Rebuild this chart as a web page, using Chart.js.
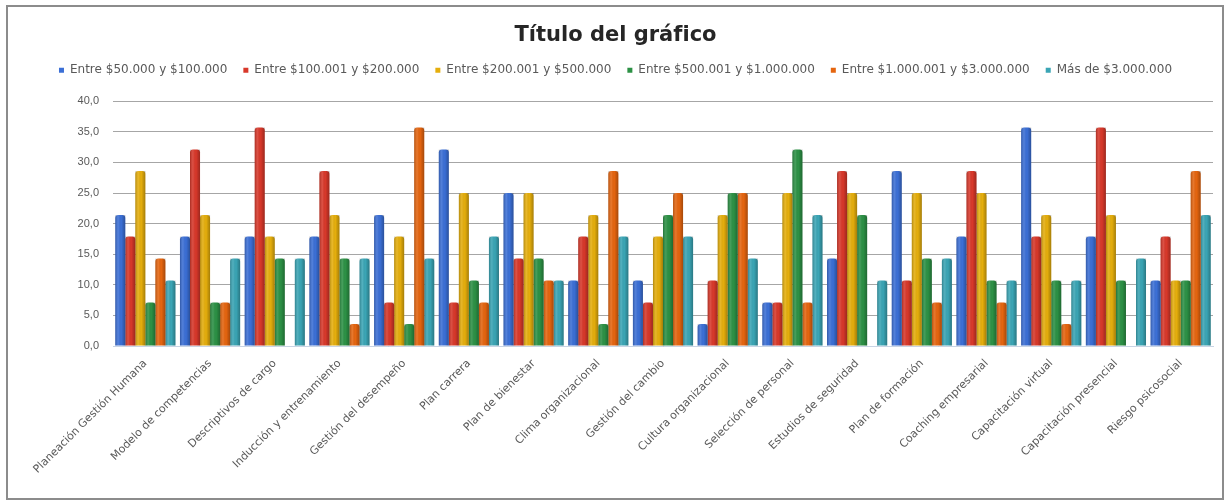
<!DOCTYPE html>
<html lang="es">
<head>
<meta charset="UTF-8">
<title>Título del gráfico</title>
<script src="https://cdn.jsdelivr.net/npm/chart.js@4.4.1/dist/chart.umd.min.js"></script>
<style>
    html, body { margin: 0; padding: 0; background: #fff; }
    #wrap { position: absolute; left: 6px; top: 5px; width: 1214px; height: 491px; border: 2px solid #8c8c8c; background: #fff; }
</style>
</head>
<body>
<div id="wrap"><canvas id="grafico"></canvas></div>
<script>
    const categorias = [
        'Planeación Gestión Humana', 'Modelo de competencias', 'Descriptivos de cargo',
        'Inducción y entrenamiento', 'Gestión del desempeño', 'Plan carrera', 'Plan de bienestar',
        'Clima organizacional', 'Gestión del cambio', 'Cultura organizacional', 'Selección de personal',
        'Estudios de seguridad', 'Plan de formación', 'Coaching empresarial', 'Capacitación virtual',
        'Capacitación presencial', 'Riesgo psicosocial'
    ];
    const series = [
        'Entre $50.000 y $100.000', 'Entre $100.001 y $200.000', 'Entre $200.001 y $500.000',
        'Entre $500.001 y $1.000.000', 'Entre $1.000.001 y $3.000.000', 'Más de $3.000.000'
    ];
    const entre50y100 = [21.4, 17.9, 17.9, 17.9, 21.4, 32.1, 25.0, 10.7, 10.7, 3.6, 7.1, 14.3, 28.6, 17.9, 35.7, 17.9, 10.7];
    const entre100y200 = [17.9, 32.1, 35.7, 28.6, 7.1, 7.1, 14.3, 17.9, 7.1, 10.7, 7.1, 28.6, 10.7, 28.6, 17.9, 35.7, 17.9];
    const entre200y500 = [28.6, 21.4, 17.9, 21.4, 17.9, 25.0, 25.0, 21.4, 17.9, 21.4, 25.0, 25.0, 25.0, 25.0, 21.4, 21.4, 10.7];
    const entre500y1000 = [7.1, 7.1, 14.3, 14.3, 3.6, 10.7, 14.3, 3.6, 21.4, 25.0, 32.1, 21.4, 14.3, 10.7, 10.7, 10.7, 10.7];
    const entre1000y3000 = [14.3, 7.1, 0.0, 3.6, 35.7, 7.1, 10.7, 28.6, 25.0, 25.0, 7.1, 0.0, 7.1, 7.1, 3.6, 0.0, 28.6];
    const masDe3000 = [10.7, 14.3, 14.3, 14.3, 14.3, 17.9, 10.7, 17.9, 17.9, 14.3, 21.4, 10.7, 14.3, 10.7, 10.7, 14.3, 21.4];
    const colores = ['#3b6fd6', '#d8382a', '#e5ae0c', '#2c9145', '#e5650f', '#3aa5b5'];
    const ticksY = [0, 5, 10, 15, 20, 25, 30, 35, 40];

    const valores = [entre50y100, entre100y200, entre200y500, entre500y1000, entre1000y3000, masDe3000];

    // sombreado tipo cilindro sobre cada barra
    const sombreado = {
        id: 'sombreado',
        afterDatasetsDraw(chart) {
            const ctx = chart.ctx;
            chart.data.datasets.forEach((ds, i) => {
                chart.getDatasetMeta(i).data.forEach(bar => {
                    const h = bar.base - bar.y;
                    if (h < 1) return;
                    const x0 = bar.x - bar.width / 2;
                    const g = ctx.createLinearGradient(x0, 0, x0 + bar.width, 0);
                    g.addColorStop(0, 'rgba(0,0,0,0.22)');
                    g.addColorStop(0.3, 'rgba(255,255,255,0.12)');
                    g.addColorStop(0.6, 'rgba(0,0,0,0)');
                    g.addColorStop(1, 'rgba(0,0,0,0.28)');
                    ctx.save();
                    ctx.fillStyle = g;
                    ctx.fillRect(x0, bar.y, bar.width, h);
                    ctx.restore();
                });
            });
        }
    };

    new Chart(document.getElementById('grafico'), {
        type: 'bar',
        data: {
            labels: categorias,
            datasets: series.map((nombre, i) => ({
                label: nombre,
                data: valores[i],
                backgroundColor: colores[i],
                borderRadius: { topLeft: 3, topRight: 3 },
                borderSkipped: 'bottom',
                barPercentage: 1,
                categoryPercentage: 0.93
            }))
        },
        options: {
            responsive: true,
            maintainAspectRatio: false,
            animation: false,
            layout: { padding: { left: 10, right: 9, top: 0, bottom: 0 } },
            plugins: {
                title: {
                    display: true,
                    text: 'Título del gráfico',
                    color: '#262626',
                    font: { family: 'DejaVu Sans', size: 21, weight: 'bold' },
                    padding: { top: 16, bottom: 0 }
                },
                // hueco vacío entre la leyenda y el área del gráfico
                subtitle: {
                    display: true,
                    text: '',
                    weight: 900,
                    font: { size: 10 },
                    padding: { top: 0, bottom: 3 }
                },
                legend: {
                    position: 'top',
                    labels: {
                        color: '#595959',
                        font: { family: 'DejaVu Sans', size: 12 },
                        boxWidth: 5,
                        boxHeight: 5,
                        padding: 16
                    }
                },
                tooltip: { enabled: false }
            },
            scales: {
                x: {
                    grid: { display: false },
                    border: { display: true, color: '#c9d4e4' },
                    ticks: {
                        color: '#595959',
                        font: { family: 'DejaVu Sans', size: 11 },
                        maxRotation: 45,
                        minRotation: 45,
                        autoSkip: false
                    },
                    afterFit(scale) { scale.height = 152; }
                },
                y: {
                    min: 0,
                    max: 40,
                    afterBuildTicks(scale) { scale.ticks = ticksY.map(v => ({ value: v })); },
                    grid: { color: '#a6a6a6', drawTicks: false },
                    border: { display: false },
                    ticks: {
                        color: '#595959',
                        font: { family: 'Liberation Sans', size: 11 },
                        padding: 14,
                        callback: v => v.toFixed(1).replace('.', ',')
                    },
                    afterFit(scale) { scale.width = 95; }
                }
            }
        },
        plugins: [sombreado]
    });
</script>
</body>
</html>
